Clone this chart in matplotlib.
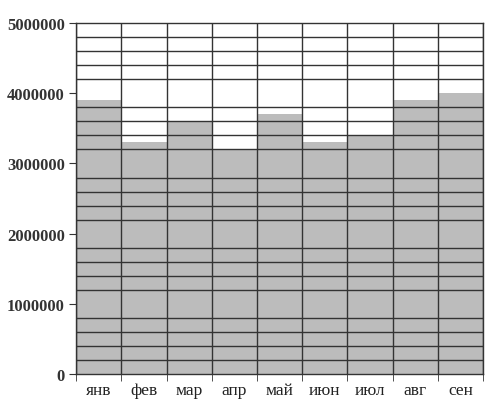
import numpy as np
import matplotlib.pyplot as plt

months = ['янв', 'фев', 'мар', 'апр', 'май', 'июн', 'июл', 'авг', 'сен']
values = [3900000, 3300000, 3600000, 3200000, 3700000, 3300000, 3400000, 3900000, 4000000]
y_ticks = [0, 1000000, 2000000, 3000000, 4000000, 5000000]

plt.rcParams['font.family'] = ['Liberation Serif', 'DejaVu Serif']

fig = plt.figure(figsize=(4.91, 4.02), dpi=100)
ax = fig.add_axes([0.155, 0.067, 0.829, 0.873])

x = np.arange(len(months))
ax.bar(x, values, width=1.0, color='#bcbcbc', edgecolor='none', zorder=1)

ax.set_xlim(-0.5, len(months) - 0.5)
ax.set_ylim(0, 5000000)

# grid: horizontal every 200000, vertical at bar boundaries
ax.set_yticks(np.arange(0, 5000001, 200000), minor=True)
ax.set_xticks(np.arange(-0.5, len(months)), minor=True)
ax.grid(which='minor', color='#333333', linewidth=1.0, zorder=2)
ax.set_axisbelow(False)

ax.set_xticks(x)
ax.set_xticklabels(months, fontsize=12.5)
ax.set_yticks(y_ticks)
ax.set_yticklabels([str(v) for v in y_ticks], fontsize=12, fontweight='bold',
                   color='#333333')

ax.tick_params(axis='x', which='major', length=0, pad=6, labelcolor='#222222')
ax.tick_params(axis='x', which='minor', length=5, color='#333333')
ax.tick_params(axis='y', which='major', length=5, color='#333333', pad=3)
ax.tick_params(axis='y', which='minor', length=0)

for s in ax.spines.values():
    s.set_color('#333333')
    s.set_linewidth(1.0)

fig.savefig('out.png', dpi=100)
